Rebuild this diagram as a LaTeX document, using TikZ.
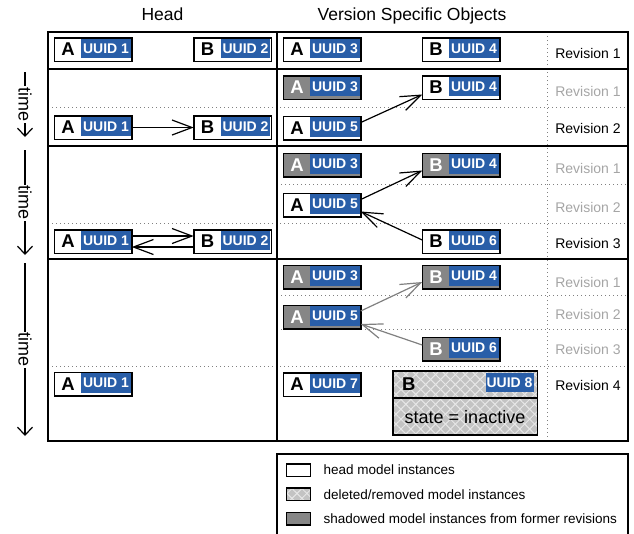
\documentclass[tikz,border=0pt]{standalone}
\usepackage{fontspec}
\setmainfont{Liberation Sans}
\usepackage{tikz}
\usetikzlibrary{arrows.meta,patterns.meta}
\definecolor{uuidblue}{RGB}{41,94,168}
\definecolor{shade}{RGB}{134,134,134}
\definecolor{faded}{RGB}{165,165,165}
\definecolor{hatchgray}{RGB}{195,195,195}
\newcommand{\fsz}[1]{\fontsize{#1}{#1}\selectfont}
\tikzstyle{tablerule} = [line width=1.3pt]
\tikzstyle{dotline} = [gray, line width=.8pt, dash pattern=on .8pt off 3.2pt]
\tikzstyle{heading} = [anchor=base, font=\fsz{17.5}]
\tikzstyle{revlabel} = [font=\fsz{14}]
\tikzstyle{oldrev} = [revlabel, text=faded]
\tikzstyle{instbox} = [draw, line width=1.5pt, outer sep=0pt, inner sep=0pt, minimum width=77.5pt, minimum height=23.5pt]
\tikzstyle{headbox} = [instbox, fill=white]
\tikzstyle{shadowbox} = [instbox, fill=shade]
\tikzstyle{delbox} = [draw, line width=1.5pt, outer sep=0pt, inner sep=0pt, preaction={fill=hatchgray},
  preaction={pattern={Lines[angle=45,distance=7pt,line width=1pt]}, pattern color=white!60!hatchgray},
  preaction={pattern={Lines[angle=-45,distance=7pt,line width=1pt]}, pattern color=white!60!hatchgray}]
\tikzstyle{uuid} = [anchor=north east, fill=uuidblue, text=white, inner sep=0pt, minimum width=49.5pt, minimum height=19.5pt, font=\fsz{14}\bfseries]
\tikzstyle{letter} = [font=\fsz{18.5}\bfseries]
\tikzstyle{headboxletter} = [letter]
\tikzstyle{shadowboxletter} = [letter, text=white]
\tikzstyle{link} = [-{Straight Barb[length=20pt,width=15pt]}, line width=1.2pt]
\tikzstyle{oldlink} = [link, draw=gray]
\tikzstyle{timeline} = [-{Straight Barb[length=8pt,width=15pt]}, line width=1.2pt]
\tikzstyle{timetext} = [fill=white, inner sep=1pt, rotate=-90, font=\fsz{18}]
\tikzstyle{keytext} = [anchor=base west, font=\fsz{13.5}]
% style, name, position, letter, uuid
\newcommand{\modelobj}[5]{%
  \node[#1] (#2) at (#3) {};
  \node[uuid] (#2id) at ([xshift=-.75pt,yshift=-.75pt]#2.north east) {UUID #5};
  \node[#1letter] (#2l) at ([xshift=13.75pt]#2.west) {#4};
}

\begin{document}
\begin{tikzpicture}[x=1pt,y=-1pt]
  \useasboundingbox (0,0) rectangle (634,533);
  \node[heading] (head) at (162.5,20.5) {Head};
  \node[heading] (vso) at (412,20.5) {Version Specific Objects};
  % table
  \draw[dotline] (547,32) -- (547,441);
  \foreach \y in {107,223,366} \draw[dotline] (48,\y) -- (628,\y);
  \foreach \y in {184,295,329} \draw[dotline] (277,\y) -- (628,\y);
  \draw[tablerule] (48,32) rectangle (628,441);
  \foreach \y in {69,146,259} \draw[tablerule] (48,\y) -- (628,\y);
  \draw[tablerule] (277,32) -- (277,441);
  % time arrows
  \coordinate (t1s) at (25,72);  \coordinate (t1e) at (25,137);
  \coordinate (t2s) at (25,150); \coordinate (t2e) at (25,255);
  \coordinate (t3s) at (25,263); \coordinate (t3e) at (25,436);
  \draw[timeline] (t1s) -- (t1e) node[timetext, midway] (t1) {time};
  \draw[timeline] (t2s) -- (t2e) node[timetext, midway] (t2) {time};
  \draw[timeline] (t3s) -- (t3e) node[timetext, midway] (t3) {time};
  % revision 1
  \modelobj{headbox}{a1r1}{93,49.5}{A}{1}
  \modelobj{headbox}{b2r1}{232.5,49.5}{B}{2}
  \modelobj{headbox}{a3r1}{322,49.5}{A}{3}
  \modelobj{headbox}{b4r1}{461,49.5}{B}{4}
  \node[revlabel] (rev11) at (588,53) {Revision 1};
  % revision 2
  \modelobj{shadowbox}{a3r2}{322,87.5}{A}{3}
  \modelobj{headbox}{b4r2}{461,87.5}{B}{4}
  \modelobj{headbox}{a1r2}{93,127.5}{A}{1}
  \modelobj{headbox}{b2r2}{232.5,127.5}{B}{2}
  \modelobj{headbox}{a5r2}{322,128}{A}{5}
  \draw[link] (a1r2) -- (b2r2);
  \draw[link] ([yshift=5.5pt]a5r2.east) -- ([yshift=-7pt]b4r2.west);
  \node[oldrev] (rev21) at (588,91) {Revision 1};
  \node[revlabel] (rev22) at (588,128) {Revision 2};
  % revision 3
  \modelobj{shadowbox}{a3r3}{322,165}{A}{3}
  \modelobj{shadowbox}{b4r3}{461,165}{B}{4}
  \modelobj{headbox}{a5r3}{322,205}{A}{5}
  \modelobj{headbox}{b6r3}{461,241.5}{B}{6}
  \modelobj{headbox}{a1r3}{93,241.5}{A}{1}
  \modelobj{headbox}{b2r3}{232.5,241.5}{B}{2}
  \draw[link] ([yshift=5.5pt]a1r3.east) -- ([yshift=5.5pt]b2r3.west);
  \draw[link] ([yshift=-5.5pt]b2r3.west) -- ([yshift=-5.5pt]a1r3.east);
  \draw[link] ([yshift=5.5pt]a5r3.east) -- ([yshift=-5.5pt]b4r3.west);
  \draw[link] ([yshift=1.5pt]b6r3.west) -- ([yshift=-6.5pt]a5r3.east);
  \node[oldrev] (rev31) at (588,168) {Revision 1};
  \node[oldrev] (rev32) at (588,207) {Revision 2};
  \node[revlabel] (rev33) at (588,243) {Revision 3};
  % revision 4
  \modelobj{shadowbox}{a3r4}{322,277}{A}{3}
  \modelobj{shadowbox}{b4r4}{461,277}{B}{4}
  \modelobj{shadowbox}{a5r4}{322,317}{A}{5}
  \modelobj{shadowbox}{b6r4}{461,349}{B}{6}
  \modelobj{headbox}{a1r4}{93,384}{A}{1}
  \modelobj{headbox}{a7r4}{322,384.5}{A}{7}
  \node[delbox, minimum width=144.5pt, minimum height=27.25pt] (b8r4) at (465,384.4) {};
  \node[delbox, minimum width=144.5pt, minimum height=37.25pt, font=\fsz{18}] (b8st) at (465,416.6) {state = inactive};
  \node[uuid, minimum width=48pt, minimum height=18.5pt] (b8r4id) at ([xshift=-3.5pt,yshift=-2.5pt]b8r4.north east) {UUID 8};
  \node[letter] (b8r4l) at ([xshift=16pt]b8r4.west) {B};
  \draw[oldlink] ([yshift=6pt]a5r4.east) -- ([yshift=-5pt]b4r4.west);
  \draw[oldlink] ([yshift=4pt]b6r4.west) -- ([yshift=-7pt]a5r4.east);
  \node[oldrev] (rev41) at (588,282) {Revision 1};
  \node[oldrev] (rev42) at (588,314) {Revision 2};
  \node[oldrev] (rev43) at (588,349) {Revision 3};
  \node[revlabel] (rev44) at (588,385) {Revision 4};
  % legend
  \draw[tablerule] (277,534) -- (277,454) -- (628,454) -- (628,534);
  \node[headbox, minimum width=24pt, minimum height=12.5pt] (key1) at (298.5,470) {};
  \node[delbox, minimum width=24pt, minimum height=12.5pt] (key2) at (298.5,494) {};
  \node[shadowbox, minimum width=24pt, minimum height=12.5pt] (key3) at (298.5,518.5) {};
  \node[keytext] (key1t) at (320,474.5) {head model instances};
  \node[keytext] (key2t) at (320,499.5) {deleted/removed model instances};
  \node[keytext] (key3t) at (320,523.5) {shadowed model instances from former revisions};
\end{tikzpicture}
\end{document}
